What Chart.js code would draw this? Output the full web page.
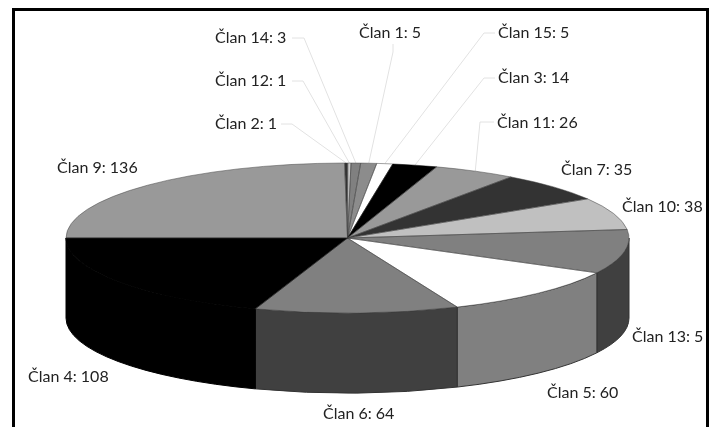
<!DOCTYPE html>
<html>
<head>
<meta charset="utf-8">
<script src="https://cdn.jsdelivr.net/npm/chart.js@4"></script>
<style>
  html, body { margin: 0; padding: 0; background: #fff; overflow: hidden; }
  #wrap { position: relative; width: 713px; height: 427px; overflow: hidden; }
  #c { position: absolute; left: 0; top: 0; filter: blur(0.7px); }
  #frame { position: absolute; left: 12px; top: 8px; width: 691px; height: 500px; border: 3px solid #000; }
</style>
</head>
<body>
<div id="wrap">
  <canvas id="c" width="713" height="427"></canvas>
  <div id="frame"></div>
</div>
<script>
// clockwise from 12 o'clock
const members = ['Član 2', 'Član 12', 'Član 14', 'Član 1', 'Član 15', 'Član 3', 'Član 11', 'Član 7', 'Član 10', 'Član 13', 'Član 5', 'Član 6', 'Član 4', 'Član 9']
const counts = [1, 1, 3, 5, 5, 14, 26, 35, 38, 52, 60, 64, 108, 136]
const topColors = ['#333333', '#cccccc', '#808080', '#8c8c8c', '#ffffff', '#000000', '#999999', '#333333', '#c0c0c0', '#808080', '#ffffff', '#808080', '#000000', '#999999']
const sideColors = ['#1a1a1a', '#666666', '#404040', '#464646', '#808080', '#000000', '#4c4c4c', '#1a1a1a', '#606060', '#404040', '#808080', '#404040', '#000000', '#4c4c4c']

// label anchor: [left x, middle y]; leader: elbow points, last one ends at the slice rim
const labelAt = {
  'Član 2': [215, 124], 'Član 12': [215, 81], 'Član 14': [215, 38], 'Član 1': [359, 33],
  'Član 15': [498, 33], 'Član 3': [498, 78], 'Član 11': [497, 123], 'Član 7': [561, 170],
  'Član 10': [622, 207], 'Član 13': [632, 337], 'Član 5': [547, 393], 'Član 6': [323, 414],
  'Član 4': [28, 377], 'Član 9': [57, 168]
}
const leaders = {
  'Član 2': [[281, 124], [292, 124]],
  'Član 12': [[292, 81], [303, 81]],
  'Član 14': [[292, 38], [304, 38]],
  'Član 1': [[393, 44], [393, 52]],
  'Član 15': [[495, 33], [484, 33]],
  'Član 3': [[495, 78], [484, 78]],
  'Član 11': [[494, 122], [480, 122]]
}

const pie3d = { cx: 347.5, cy: 238, rx: 281.5, ry: 75, depth: 80 }

const fake3d = {
  id: 'fake3d',
  beforeDatasetsDraw(chart) {
    const ctx = chart.ctx
    const { cx, cy, rx, ry, depth } = pie3d
    const arcs = chart.getDatasetMeta(0).data

    // leader lines go under the pie
    ctx.save()
    ctx.strokeStyle = '#e2e2e2'
    ctx.lineWidth = 1
    arcs.forEach((arc, i) => {
      const pts = leaders[members[i]]
      if (!pts) return
      const mid = (arc.startAngle + arc.endAngle) / 2
      ctx.beginPath()
      ctx.moveTo(pts[0][0], pts[0][1])
      ctx.lineTo(pts[1][0], pts[1][1])
      ctx.lineTo(cx + rx * Math.cos(mid), cy + ry * Math.sin(mid))
      ctx.stroke()
    })

    // front wall, only the part of each slice between 0 and PI
    arcs.forEach((arc, i) => {
      const a = Math.max(arc.startAngle, 0)
      const b = Math.min(arc.endAngle, Math.PI)
      if (b <= a) return
      ctx.beginPath()
      ctx.ellipse(cx, cy, rx, ry, 0, a, b)
      ctx.ellipse(cx, cy + depth, rx, ry, 0, b, a, true)
      ctx.closePath()
      ctx.fillStyle = sideColors[i]
      ctx.fill()
      ctx.strokeStyle = sideColors[i] === '#000000' ? '#000' : '#333'
      ctx.lineWidth = 1
      ctx.stroke()
    })
    ctx.restore()

    // squash the library's own arcs into the top ellipse
    const first = arcs[0]
    const r = first.outerRadius
    ctx.save()
    ctx.translate(cx, cy)
    ctx.scale(rx / r, ry / r)
    ctx.translate(-first.x, -first.y)
  },
  afterDatasetsDraw(chart) {
    const ctx = chart.ctx
    ctx.restore()
    const { cx, cy, rx, ry } = pie3d
    const arcs = chart.getDatasetMeta(0).data

    ctx.save()
    ctx.lineWidth = 0.5
    arcs.forEach((arc, i) => {
      // black slices run into their black wall with no visible rim
      ctx.strokeStyle = topColors[i] === '#000000' ? '#000' : '#444'
      ctx.beginPath()
      ctx.moveTo(cx, cy)
      ctx.ellipse(cx, cy, rx, ry, 0, arc.startAngle, arc.endAngle)
      ctx.closePath()
      ctx.stroke()
    })

    // labels, cut off at the frame like the original
    ctx.beginPath()
    ctx.rect(0, 0, 703, 427)
    ctx.clip()
    ctx.fillStyle = '#222'
    ctx.font = '16px Lato'
    ctx.textBaseline = 'middle'
    ctx.textAlign = 'left'
    members.forEach((m, i) => {
      const at = labelAt[m]
      ctx.fillText(m + ': ' + counts[i], at[0], at[1])
    })
    ctx.restore()
  }
}

new Chart(document.getElementById('c'), {
  type: 'pie',
  data: {
    labels: members,
    datasets: [{
      data: counts,
      backgroundColor: topColors,
      borderWidth: 0,
      rotation: -0.6,
      clip: false
    }]
  },
  options: {
    responsive: false,
    animation: false,
    plugins: { legend: { display: false }, tooltip: { enabled: false } }
  },
  plugins: [fake3d]
})
</script>
</body>
</html>
